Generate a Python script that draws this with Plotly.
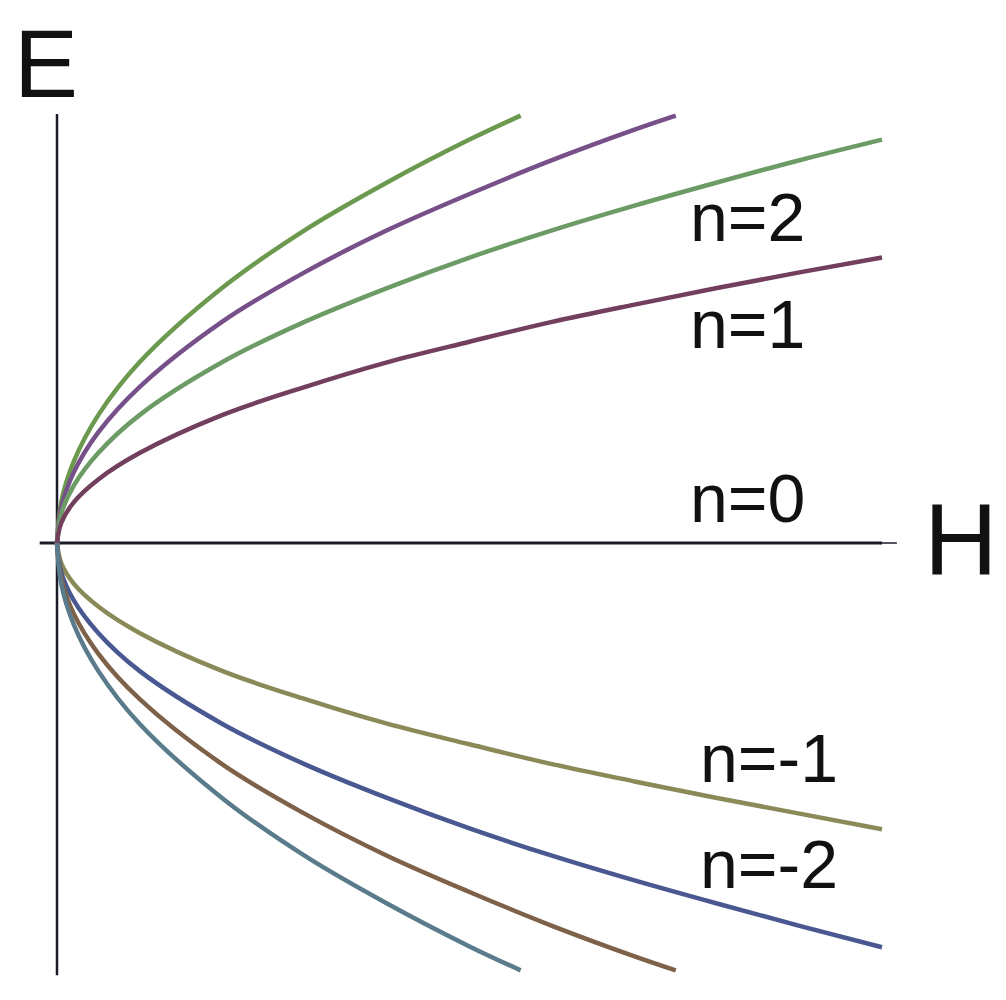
import plotly.graph_objects as go

# field H (same units for both axes)
h_long = [0, 0.05, 0.2, 0.5, 1, 2, 3, 4, 5, 6, 7, 8, 9, 10]
h_mid = [0, 0.05, 0.2, 0.5, 1, 2, 3, 4, 5, 6, 7, 7.5]
h_short = [0, 0.05, 0.2, 0.5, 1, 2, 3, 4, 5, 5.62]

# upper branches
e_n1 = [0, 0.24, 0.49, 0.77, 1.09, 1.55, 1.89, 2.19, 2.44, 2.68, 2.89, 3.09, 3.28, 3.46]
e_n2 = [0, 0.35, 0.69, 1.09, 1.55, 2.19, 2.68, 3.09, 3.46, 3.79, 4.09, 4.37, 4.64, 4.89]
e_n3 = [0, 0.42, 0.85, 1.34, 1.89, 2.68, 3.28, 3.79, 4.23, 4.64, 5.01, 5.18]
e_n4 = [0, 0.49, 0.98, 1.55, 2.19, 3.09, 3.79, 4.37, 4.89, 5.18]

# lower branches
e_m1 = [0, -0.24, -0.49, -0.77, -1.09, -1.55, -1.89, -2.19, -2.44, -2.68, -2.89, -3.09, -3.28, -3.47]
e_m2 = [0, -0.35, -0.69, -1.09, -1.55, -2.19, -2.68, -3.09, -3.46, -3.79, -4.09, -4.37, -4.64, -4.90]
e_m3 = [0, -0.42, -0.85, -1.34, -1.89, -2.68, -3.28, -3.79, -4.23, -4.64, -5.01, -5.18]
e_m4 = [0, -0.49, -0.98, -1.55, -2.19, -3.09, -3.79, -4.37, -4.89, -5.18]

labels = ['n=2', 'n=1', 'n=0', 'n=-1', 'n=-2']

curves = [
    (h_short, e_n4, '#6b9a4e'),
    (h_mid, e_n3, '#77508a'),
    (h_long, e_n2, '#6c9b66'),
    (h_long, e_n1, '#723f5e'),
    (h_long, e_m1, '#898a58'),
    (h_long, e_m2, '#495891'),
    (h_mid, e_m3, '#7d6148'),
    (h_short, e_m4, '#5a7b8c'),
]

fig = go.Figure()
for hx, ey, col in curves:
    fig.add_trace(go.Scatter(x=hx, y=ey, mode='lines', line=dict(color=col, width=4.5, shape='spline'),
                             showlegend=False, hoverinfo='skip'))

# axes drawn by hand
axis_col = '#1c1c28'
fig.add_shape(type='line', x0=-0.21, x1=10.0, y0=0, y1=0, line=dict(color=axis_col, width=3), layer='below')
fig.add_shape(type='line', x0=10.0, x1=10.18, y0=0, y1=0, line=dict(color=axis_col, width=1.5), layer='below')
fig.add_shape(type='line', x0=0, x1=0, y0=-5.24, y1=5.2, line=dict(color=axis_col, width=2.5), layer='below')

big = dict(family='Liberation Sans, Arial, sans-serif', size=102, color='#111111')
small = dict(family='Liberation Sans, Arial, sans-serif', size=68, color='#111111')

# the page body adds an 8px offset, so positions below are shifted back by it
off = 8

fig.add_annotation(text='E', xref='paper', yref='paper', x=(12 - off) / 1006, y=1,
                   xanchor='left', yanchor='top', showarrow=False, font=dict(big, size=96))
fig.add_annotation(text='H', xref='paper', yref='paper', x=(922 - off) / 1006, y=1 - (540 - off) / 1000,
                   xanchor='left', yanchor='middle', showarrow=False, font=big)

label_pos = [(688, 217), (688, 324), (688, 498), (698, 758), (698, 864)]
for txt, (px, py) in zip(labels, label_pos):
    fig.add_annotation(text=txt, xref='paper', yref='paper', x=(px - off) / 1006, y=1 - (py - off) / 1000,
                       xanchor='left', yanchor='middle', showarrow=False, font=small)

fig.update_layout(width=1006, height=1000, margin=dict(l=0, r=0, t=0, b=0),
                  plot_bgcolor='white', paper_bgcolor='white', showlegend=False)
fig.update_xaxes(range=[(off - 57) / 82.5, (1006 + off - 57) / 82.5], visible=False, fixedrange=True)
fig.update_yaxes(range=[(543 - 1000 - off) / 82.5, (543 - off) / 82.5], visible=False, fixedrange=True)

fig.write_html("out.html")
